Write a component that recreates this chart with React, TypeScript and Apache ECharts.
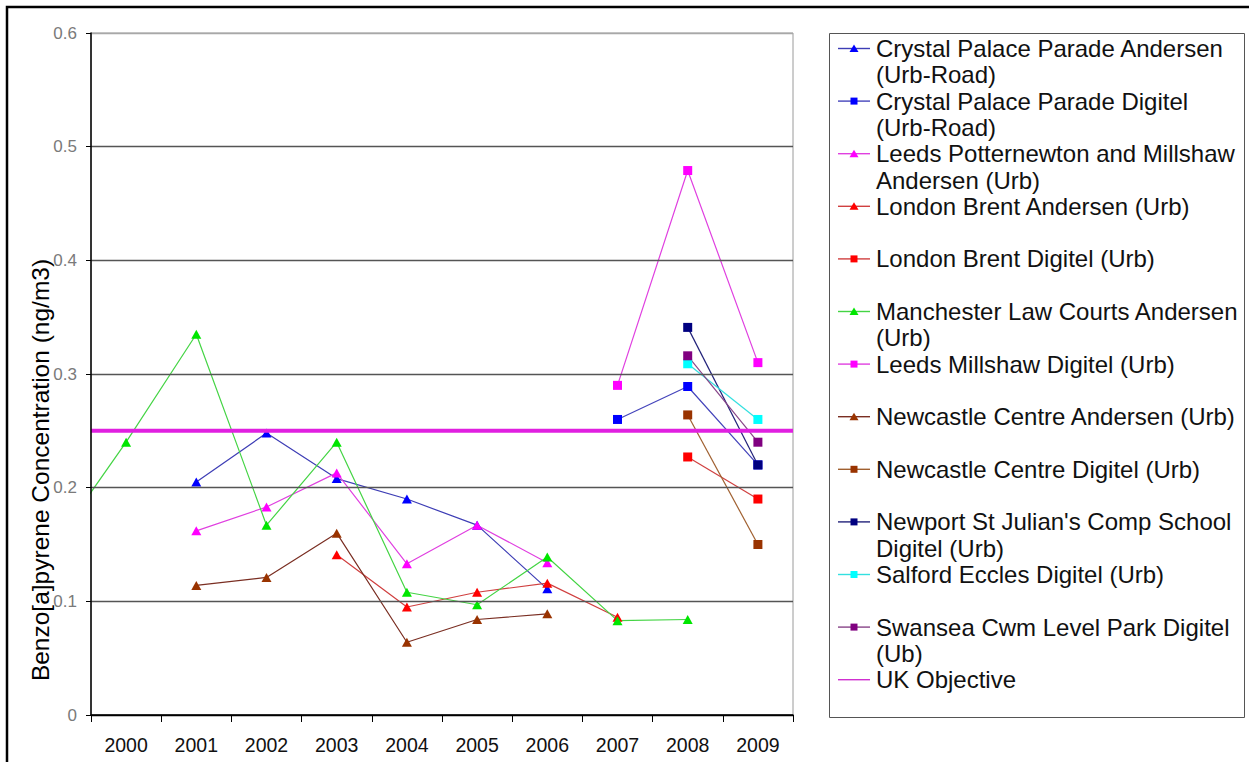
import React, { useEffect, useRef } from "react";
import * as echarts from "echarts";

// Years used for the (hidden) numeric x scale; 1999 only feeds the clipped Manchester segment
const YEARS = [1999, 2000, 2001, 2002, 2003, 2004, 2005, 2006, 2007, 2008, 2009];
const CATEGORIES = ["2000", "2001", "2002", "2003", "2004", "2005", "2006", "2007", "2008", "2009"];

const crystalPalaceAndersen = [null, null, 0.205, 0.248, 0.208, 0.19, 0.167, 0.111, null, null, null];
const crystalPalaceDigitel = [null, null, null, null, null, null, null, null, 0.26, 0.289, 0.22];
const leedsPotternewtonAndersen = [null, null, 0.162, 0.183, 0.213, 0.133, 0.167, 0.134, null, null, null];
const londonBrentAndersen = [null, null, null, null, 0.141, 0.095, 0.108, 0.116, 0.086, null, null];
const londonBrentDigitel = [null, null, null, null, null, null, null, null, null, 0.227, 0.19];
const manchesterAndersen = [0.152, 0.24, 0.335, 0.167, 0.24, 0.108, 0.097, 0.139, 0.083, 0.084, null];
const leedsMillshawDigitel = [null, null, null, null, null, null, null, null, 0.29, 0.479, 0.31];
const newcastleAndersen = [null, null, 0.114, 0.121, 0.16, 0.064, 0.084, 0.089, null, null, null];
const newcastleDigitel = [null, null, null, null, null, null, null, null, null, 0.264, 0.15];
const newportDigitel = [null, null, null, null, null, null, null, null, null, 0.341, 0.22];
const salfordDigitel = [null, null, null, null, null, null, null, null, null, 0.309, 0.26];
const swanseaDigitel = [null, null, null, null, null, null, null, null, null, 0.316, 0.24];
const ukObjective = 0.25;

const Y_MIN = 0;
const Y_MAX = 0.6;
const Y_STEP = 0.1;

type Def = {
  lines: string[];
  values: (number | null)[] | null;
  marker: string;
  line: string;
  symbol: "triangle" | "rect" | "none";
};

const DEFS: Def[] = [
  { lines: ["Crystal Palace Parade Andersen", "(Urb-Road)"], values: crystalPalaceAndersen, marker: "#0000ff", line: "#3d3db5", symbol: "triangle" },
  { lines: ["Crystal Palace Parade Digitel", "(Urb-Road)"], values: crystalPalaceDigitel, marker: "#0000ff", line: "#4444bb", symbol: "rect" },
  { lines: ["Leeds Potternewton and Millshaw", "Andersen (Urb)"], values: leedsPotternewtonAndersen, marker: "#ff00ff", line: "#e040e0", symbol: "triangle" },
  { lines: ["London Brent Andersen (Urb)"], values: londonBrentAndersen, marker: "#ff0000", line: "#d04040", symbol: "triangle" },
  { lines: ["London Brent Digitel (Urb)"], values: londonBrentDigitel, marker: "#ff0000", line: "#d04040", symbol: "rect" },
  { lines: ["Manchester Law Courts Andersen", "(Urb)"], values: manchesterAndersen, marker: "#00e600", line: "#44d444", symbol: "triangle" },
  { lines: ["Leeds Millshaw Digitel (Urb)"], values: leedsMillshawDigitel, marker: "#ff00ff", line: "#e040e0", symbol: "rect" },
  { lines: ["Newcastle Centre Andersen (Urb)"], values: newcastleAndersen, marker: "#993300", line: "#7a2e22", symbol: "triangle" },
  { lines: ["Newcastle Centre Digitel (Urb)"], values: newcastleDigitel, marker: "#993300", line: "#a06030", symbol: "rect" },
  { lines: ["Newport St Julian's Comp School", "Digitel (Urb)"], values: newportDigitel, marker: "#000080", line: "#22227a", symbol: "rect" },
  { lines: ["Salford Eccles Digitel (Urb)"], values: salfordDigitel, marker: "#00ffff", line: "#33e0e0", symbol: "rect" },
  { lines: ["Swansea Cwm Level Park Digitel", "(Ub)"], values: swanseaDigitel, marker: "#800080", line: "#884488", symbol: "rect" },
  { lines: ["UK Objective"], values: null, marker: "#e020e0", line: "#d030d0", symbol: "none" },
];

const FONT = "'Liberation Sans', Arial, sans-serif";

export default function App() {
  const ref = useRef<HTMLDivElement>(null);

  useEffect(() => {
    if (!ref.current) return;
    const chart = echarts.init(ref.current, undefined, { renderer: "svg" });

    const series: any[] = DEFS.map((d) => {
      if (d.values === null) {
        return {
          name: d.lines.join(" "),
          type: "line",
          xAxisIndex: 1,
          yAxisIndex: 0,
          data: [
            [1999.5, ukObjective],
            [2009.5, ukObjective],
          ],
          symbol: "none",
          lineStyle: { color: d.marker, width: 4 },
          z: 3,
        };
      }
      const data: [number, number][] = [];
      d.values.forEach((v, i) => {
        if (v !== null) data.push([YEARS[i], v]);
      });
      return {
        name: d.lines.join(" "),
        type: "line",
        xAxisIndex: 1,
        yAxisIndex: 0,
        data,
        clip: true,
        symbol: d.symbol,
        symbolSize: d.symbol === "triangle" ? [10, 9] : [9, 9],
        showSymbol: true,
        itemStyle: { color: d.marker, borderWidth: 0 },
        lineStyle: { color: d.line, width: 1.2 },
        z: 2,
      };
    });

    // Legend drawn as graphic elements (Excel-style: fixed two-line slots)
    const legendEls: any[] = [];
    const rowStart = 48.5;
    const rowStep = 52.6;
    const lineH = 26.3;
    DEFS.forEach((d, i) => {
      const cy = rowStart + i * rowStep;
      legendEls.push({
        type: "line",
        shape: { x1: 838, y1: cy, x2: 870, y2: cy },
        style: { stroke: d.line, lineWidth: 1.4 },
        z: 10,
      });
      if (d.symbol === "triangle") {
        legendEls.push({
          type: "polygon",
          shape: { points: [[854, cy - 4], [858.5, cy + 3.5], [849.5, cy + 3.5]] },
          style: { fill: d.marker },
          z: 11,
        });
      } else if (d.symbol === "rect") {
        legendEls.push({
          type: "rect",
          shape: { x: 850.5, y: cy - 3.5, width: 7, height: 7 },
          style: { fill: d.marker },
          z: 11,
        });
      }
      d.lines.forEach((t, j) => {
        legendEls.push({
          type: "text",
          x: 876,
          y: cy + j * lineH,
          style: {
            text: t,
            fontFamily: FONT,
            fontSize: 24,
            fill: "#111",
            align: "left",
            verticalAlign: "middle",
          },
          z: 11,
        });
      });
    });

    chart.setOption({
      animation: false,
      backgroundColor: "#ffffff",
      grid: {
        left: 91,
        top: 33,
        right: 1249 - 793,
        bottom: 762 - 715,
        show: true,
        borderColor: "#9a9a9a",
        borderWidth: 1,
        backgroundColor: "transparent",
      },
      xAxis: [
        {
          type: "category",
          data: CATEGORIES,
          boundaryGap: true,
          axisLine: { show: true, lineStyle: { color: "#000", width: 1.5 } },
          axisTick: { show: true, length: 7, interval: 0, lineStyle: { color: "#000", width: 1 } },
          axisLabel: { interval: 0, fontFamily: FONT, fontSize: 19.5, color: "#111", margin: 20 },
          splitLine: { show: false },
          z: 5,
        },
        {
          type: "value",
          min: 1999.5,
          max: 2009.5,
          show: false,
          splitLine: { show: false },
        },
      ],
      yAxis: {
        type: "value",
        min: Y_MIN,
        max: Y_MAX,
        interval: Y_STEP,
        axisLine: { show: true, lineStyle: { color: "#000", width: 1.5 } },
        axisTick: { show: true, length: 5, lineStyle: { color: "#000", width: 1 } },
        axisLabel: {
          fontFamily: FONT,
          fontSize: 17,
          color: "#7a7a7a",
          margin: 14,
          formatter: (v: number) => (v === 0 ? "0" : v.toFixed(1)),
        },
        splitLine: {
          show: true,
          lineStyle: {
            color: ["#000", "#555", "#555", "#555", "#555", "#555", "#a8a8a8"],
            width: 1.3,
          },
        },
        z: 5,
      },
      series,
      graphic: [
        {
          type: "rect",
          shape: { x: 7, y: 7, width: 1270, height: 790 },
          style: { fill: "none", stroke: "#000", lineWidth: 2.5 },
          z: 20,
        },
        {
          type: "rect",
          shape: { x: 829.5, y: 33.5, width: 415, height: 684 },
          style: { fill: "#fff", stroke: "#555", lineWidth: 1 },
          z: 9,
        },
        {
          type: "text",
          x: 40,
          y: 470,
          rotation: Math.PI / 2,
          style: {
            text: "Benzo[a]pyrene Concentration (ng/m3)",
            fontFamily: FONT,
            fontSize: 24.5,
            fill: "#000",
            align: "center",
            verticalAlign: "middle",
          },
          z: 10,
        },
        ...legendEls,
      ],
    });

    return () => {
      chart.dispose();
    };
  }, []);

  return (
    <div
      ref={ref}
      style={{ position: "absolute", left: 0, top: 0, width: 1249, height: 762, background: "#fff" }}
    />
  );
}
